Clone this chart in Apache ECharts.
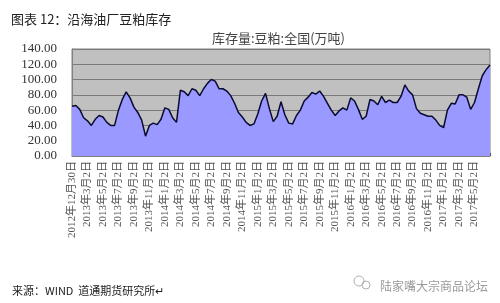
<!DOCTYPE html>
<html>
<head>
<meta charset="utf-8">
<script src="https://cdn.jsdelivr.net/npm/echarts@6/dist/echarts.min.js"></script>
<style>
html,body{margin:0;padding:0;background:#fff;}
#chart{width:500px;height:303px;}
</style>
</head>
<body>
<div id="chart"></div>
<script>
// Tick labels along the x axis (one every two months)
var tickLabels = [
  '2012年12月30日','2013年3月2日','2013年5月2日','2013年7月2日','2013年9月2日','2013年11月2日',
  '2014年1月2日','2014年3月2日','2014年5月2日','2014年7月2日','2014年9月2日','2014年11月2日',
  '2015年1月2日','2015年3月2日','2015年5月2日','2015年7月2日','2015年9月2日','2015年11月2日',
  '2016年1月2日','2016年3月2日','2016年5月2日','2016年7月2日','2016年9月2日','2016年11月2日',
  '2017年1月2日','2017年3月2日','2017年5月2日'
];
// Inventory, half-monthly readings (万吨), 2012-12-30 .. 2017-07
var stock = [
  65,66,61,50,46,40,48,53,51,44,40,40,60,74,84,76,64,57,47,26,
  40,43,41,48,63,61,50,44,86,84,79,88,86,79,88,95,100,98,88,88,
  85,79,69,57,51,44,40,42,55,72,82,62,45,52,71,54,43,42,53,60,
  72,77,83,81,85,78,69,60,53,59,63,60,76,72,61,48,52,74,72,67,
  78,70,73,70,70,78,93,85,80,62,56,54,52,52,47,40,37,60,69,68,
  80,80,77,61,70,88,105,113,119
];
var yTicks = [0,20,40,60,80,100,120,140];
var titleText = '图表 12：沿海油厂豆粕库存';
var subTitle = '库存量:豆粕:全国(万吨)';
var sourceText = '来源：WIND  道通期货研究所↵';
var markText = '陆家嘴大宗商品论坛';

var categories = [];
for (var i = 0; i < stock.length; i++) {
  categories.push(i % 4 === 0 && tickLabels[i / 4] ? tickLabels[i / 4] : '');
}

var serif = '"Liberation Serif","DejaVu Serif","Noto Sans CJK SC",serif';
var chart = echarts.init(document.getElementById('chart'), null, {renderer: 'canvas'});
chart.setOption({
  animation: false,
  backgroundColor: '#ffffff',
  title: [
    {text: titleText, left: 6, top: 8,
     textStyle: {fontSize: 13, fontWeight: 'normal', color: '#222', fontFamily: '"Noto Sans CJK SC",sans-serif'}},
    {text: subTitle, left: 207, top: 27,
     textStyle: {fontSize: 13, fontWeight: 'normal', color: '#444', fontFamily: '"Noto Sans CJK SC",serif'}},
    {text: sourceText, left: 7, top: 280,
     textStyle: {fontSize: 11, fontWeight: 'normal', color: '#222', fontFamily: '"Noto Sans CJK SC",sans-serif'}},
    {text: markText, left: 375, top: 275,
     textStyle: {fontSize: 12, fontWeight: 'normal', color: '#9a9a9a', fontFamily: '"Noto Sans CJK SC",sans-serif'}}
  ],
  graphic: [
    {type: 'circle', shape: {cx: 359, cy: 281, r: 5}, style: {fill: 'none', stroke: '#b0b0b0', lineWidth: 1}},
    {type: 'circle', shape: {cx: 366, cy: 285, r: 4}, style: {fill: 'none', stroke: '#b0b0b0', lineWidth: 1}}
  ],
  grid: {left: 72, right: 10, top: 49, bottom: 147, show: true,
         backgroundColor: '#c0c0c0', borderColor: '#808080', borderWidth: 1},
  xAxis: {
    type: 'category', data: categories, boundaryGap: false,
    axisLine: {show: true, lineStyle: {color: '#808080'}},
    axisTick: {show: true, inside: true, length: 3, interval: 3, lineStyle: {color: '#555'}},
    axisLabel: {rotate: 90, interval: 3, margin: 5, fontSize: 11, color: '#555', fontFamily: serif},
    splitLine: {show: false}
  },
  yAxis: {
    type: 'value', min: yTicks[0], max: yTicks[yTicks.length - 1], interval: 20,
    axisLine: {show: true, lineStyle: {color: '#808080'}},
    axisTick: {show: false},
    axisLabel: {margin: 15, fontSize: 13, color: '#333', fontFamily: serif,
                formatter: function (v) { return v.toFixed(2); }},
    splitLine: {show: true, lineStyle: {color: '#7a7a7a', width: 1}}
  },
  series: [{
    type: 'line', data: stock, showSymbol: false, smooth: false,
    lineStyle: {color: '#0a0a33', width: 1.5},
    areaStyle: {color: '#9999ff', opacity: 1}
  }]
});
</script>
</body>
</html>
